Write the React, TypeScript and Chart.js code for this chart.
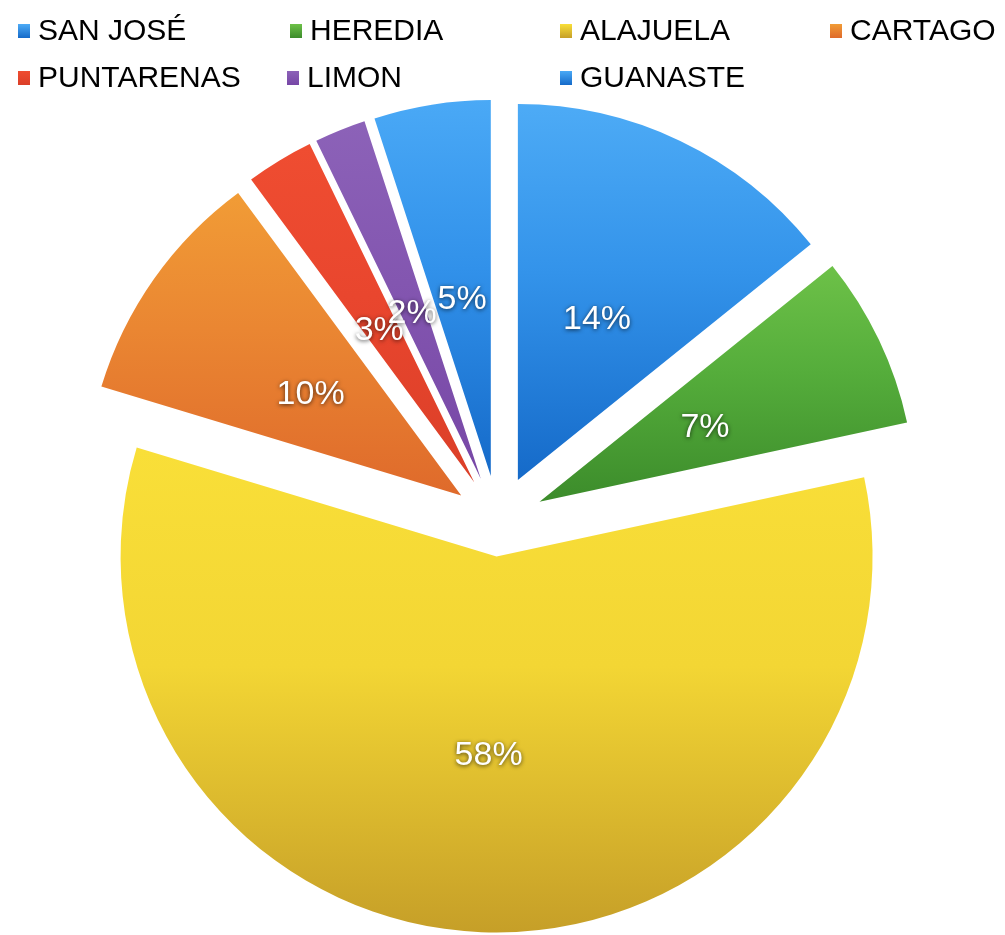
import React, { useEffect, useRef } from 'react';
import { Chart, registerables } from 'chart.js';

Chart.register(...registerables);

const categories = ['SAN JOSÉ', 'HEREDIA', 'ALAJUELA', 'CARTAGO', 'PUNTARENAS', 'LIMON', 'GUANASTE'];
const values = [14.2, 7.4, 58.0, 10.2, 2.9, 2.2, 5.0];

const colorsTop = ['#4dabf6', '#6dc148', '#f9df38', '#f19c36', '#ef4d31', '#8c62b8', '#4aa9f6'];
const colorsMid = ['#3393ea', '#55ad3b', '#f3d634', '#ea8632', '#e9462e', '#8356b0', '#3191ea'];
const colorsBottom = ['#156ac9', '#3c8c2b', '#c69f28', '#df6a2b', '#db3f28', '#7747a6', '#156ac9'];
const explode = [46, 46, 35, 45, 46, 46, 46];

const legendRows = [[0, 1, 2, 3], [4, 5, 6]];
const legendColX = [[18, 290, 560, 830], [18, 287, 560]];
const legendRowY = [31, 78];

const FONT = '"Liberation Sans", Arial, Helvetica, sans-serif';
const RADIUS = 376;

const total = values.reduce((a, b) => a + b, 0);

function sliceAngles(i: number): [number, number] {
  let cum = 0;
  for (let k = 0; k < i; k++) cum += values[k];
  const s = -Math.PI / 2 + (cum / total) * Math.PI * 2;
  const e = s + (values[i] / total) * Math.PI * 2;
  return [s, e];
}

function sliceGradient(ctx: CanvasRenderingContext2D, i: number, cy: number) {
  const [s, e] = sliceAngles(i);
  let yMin = cy;
  let yMax = cy;
  for (let k = 0; k <= 80; k++) {
    const a = s + ((e - s) * k) / 80;
    const y = cy + RADIUS * Math.sin(a);
    if (y < yMin) yMin = y;
    if (y > yMax) yMax = y;
  }
  const g = ctx.createLinearGradient(0, yMin, 0, yMax);
  g.addColorStop(0, colorsTop[i]);
  g.addColorStop(0.45, colorsMid[i]);
  g.addColorStop(1, colorsBottom[i]);
  return g;
}

const explodePlugin = {
  id: 'explodeDraw',
  beforeDatasetsDraw(chart: any) {
    const meta = chart.getDatasetMeta(0);
    const ctx = chart.ctx;
    meta.data.forEach((arc: any, i: number) => {
      const mid = (arc.startAngle + arc.endAngle) / 2;
      ctx.save();
      ctx.translate(Math.cos(mid) * explode[i], Math.sin(mid) * explode[i]);
      arc.draw(ctx, chart.chartArea);
      ctx.restore();
    });
    return false;
  },
};

const labelsPlugin = {
  id: 'sliceLabels',
  afterDraw(chart: any) {
    const meta = chart.getDatasetMeta(0);
    const ctx = chart.ctx;
    ctx.save();
    ctx.font = `34px ${FONT}`;
    ctx.textAlign = 'center';
    ctx.textBaseline = 'middle';
    ctx.fillStyle = '#ffffff';
    ctx.shadowColor = 'rgba(0,0,0,0.7)';
    ctx.shadowBlur = 4;
    ctx.shadowOffsetX = 0;
    ctx.shadowOffsetY = 1;
    meta.data.forEach((arc: any, i: number) => {
      const mid = (arc.startAngle + arc.endAngle) / 2;
      const d = arc.outerRadius * 0.61;
      const x = arc.x + Math.cos(mid) * d;
      const y = arc.y + Math.sin(mid) * d + 5;
      const txt = Math.round((values[i] / total) * 100) + '%';
      ctx.fillText(txt, x, y);
    });
    ctx.restore();

    // legend
    ctx.save();
    ctx.font = `30px ${FONT}`;
    ctx.textAlign = 'left';
    ctx.textBaseline = 'middle';
    legendRows.forEach((row, r) => {
      row.forEach((idx, c) => {
        const bx = legendColX[r][c];
        const by = legendRowY[r];
        const g = ctx.createLinearGradient(0, by - 7, 0, by + 7);
        g.addColorStop(0, colorsTop[idx]);
        g.addColorStop(1, colorsBottom[idx]);
        ctx.fillStyle = g;
        ctx.fillRect(bx, by - 7, 12, 14);
        ctx.fillStyle = '#000000';
        ctx.fillText(categories[idx], bx + 20, by + 1);
      });
    });
    ctx.restore();
  },
};

export default function App() {
  const ref = useRef<HTMLCanvasElement>(null);
  useEffect(() => {
    if (!ref.current) return;
    const chart = new Chart(ref.current, {
      type: 'pie',
      data: {
        labels: categories,
        datasets: [
          {
            data: values,
            radius: RADIUS,
            borderWidth: 0,
            clip: false,
            backgroundColor: (c: any) => {
              const i = c.dataIndex;
              const area = c.chart.chartArea;
              if (i === undefined || !area) return colorsTop[0];
              const cy = (area.top + area.bottom) / 2;
              return sliceGradient(c.chart.ctx, i, cy);
            },
          } as any,
        ],
      },
      options: {
        responsive: false,
        maintainAspectRatio: false,
        animation: false,
        layout: { padding: { left: 0, right: 9, top: 108, bottom: 0 } },
        plugins: {
          legend: { display: false },
          tooltip: { enabled: false },
        },
        events: [],
      },
      plugins: [explodePlugin, labelsPlugin],
    });
    return () => chart.destroy();
  }, []);
  return (
    <div style={{ position: 'absolute', left: 0, top: 0, width: 1005, height: 935, background: '#ffffff' }}>
      <canvas ref={ref} width={1005} height={935} style={{ display: 'block' }} />
    </div>
  );
}
